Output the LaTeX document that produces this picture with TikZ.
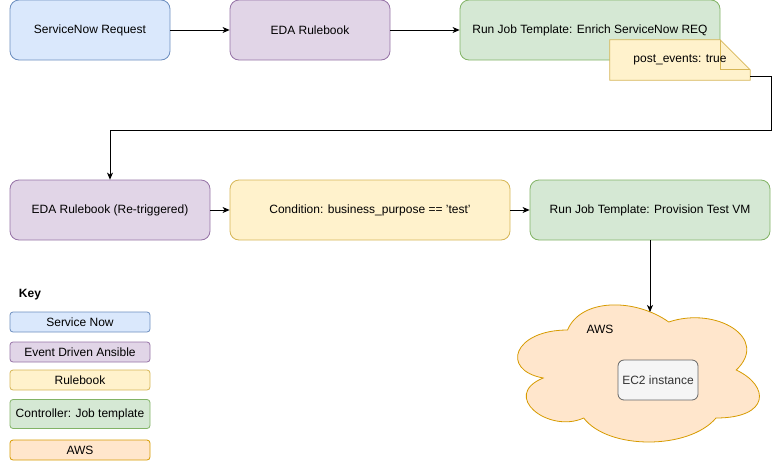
\documentclass[tikz,border=0pt]{standalone}
\usepackage{fontspec}
\setmainfont{Liberation Sans}
\usepackage{tikz}
\usetikzlibrary{arrows.meta}

\definecolor{snowfill}{HTML}{DAE8FC}
\definecolor{snowline}{HTML}{6C8EBF}
\definecolor{edafill}{HTML}{E1D5E7}
\definecolor{edaline}{HTML}{9673A6}
\definecolor{rulefill}{HTML}{FFF2CC}
\definecolor{ruleline}{HTML}{D6B656}
\definecolor{jobfill}{HTML}{D5E8D4}
\definecolor{jobline}{HTML}{82B366}
\definecolor{awsfill}{HTML}{FFE6CC}
\definecolor{awsline}{HTML}{D79B00}
\definecolor{ecfill}{HTML}{F5F5F5}
\definecolor{ecline}{HTML}{666666}
\definecolor{ectext}{HTML}{333333}

\begin{document}
\begin{tikzpicture}[x=1pt,y=-1pt,font=\fontsize{12}{14}\selectfont]
            \tikzstyle{box}=[draw,line width=0.8pt,rounded corners=9pt,inner sep=0pt,minimum height=60pt]
            \tikzstyle{keybox}=[draw,line width=0.8pt,rounded corners=3pt,inner sep=0pt,minimum width=140pt,minimum height=20pt]
            \tikzstyle{link}=[line width=0.8pt,-{Stealth[length=7pt,width=6pt,inset=2pt]}]
            \useasboundingbox (0,0) rectangle (779,461);
            % top row
            \node[box,fill=snowfill,draw=snowline,minimum width=160pt] (svcreq) at (90,30) {ServiceNow Request};
            \node[box,fill=edafill,draw=edaline,minimum width=160pt] (edarule) at (310,30) {EDA Rulebook};
            \node[box,fill=jobfill,draw=jobline,minimum width=260pt] (enrich) at (590,30) {Run Job Template: Enrich ServiceNow REQ};
            % note with folded corner
            \node[minimum width=140pt,minimum height=40pt,inner sep=0pt] (note) at (680,60) {};
            \draw[line width=0.8pt,draw=ruleline,fill=rulefill] (note.north west) -- ([xshift=-30pt]note.north east)
                -- ([yshift=-30pt]note.north east) -- (note.south east) -- (note.south west) -- cycle;
            \draw[line width=0.8pt,draw=ruleline] ([xshift=-30pt]note.north east) |- ([yshift=-30pt]note.north east);
            \node at (note) {post\_events: true};
            % second row
            \node[box,fill=edafill,draw=edaline,minimum width=200pt] (retrig) at (110,210) {EDA Rulebook (Re-triggered)};
            \node[box,fill=rulefill,draw=ruleline,minimum width=280pt] (cond) at (370,210) {Condition: business\_purpose == 'test'};
            \node[box,fill=jobfill,draw=jobline,minimum width=240pt] (provision) at (650,210) {Run Job Template: Provision Test VM};
            % cloud
            \begin{scope}[shift={(500,290)},x=270pt,y=-160pt]
                \draw[line width=0.8pt,draw=awsline,fill=awsfill] (0.25,0.25) .. controls (0.05,0.25) and (0,0.5) .. (0.16,0.55)
                    .. controls (0,0.66) and (0.18,0.9) .. (0.31,0.8) .. controls (0.4,1) and (0.7,1) .. (0.8,0.8)
                    .. controls (1,0.8) and (1,0.6) .. (0.875,0.5) .. controls (1,0.3) and (0.8,0.1) .. (0.625,0.2)
                    .. controls (0.5,0.05) and (0.3,0.05) .. (0.25,0.25) -- cycle;
            \end{scope}
            \coordinate (cloudtop) at (650,312);
            \node (awslabel) at (600,329) {AWS};
            \node[draw=ecline,fill=ecfill,text=ectext,line width=0.8pt,rounded corners=6pt,minimum width=80pt,minimum height=40pt,inner sep=0pt] (ec2) at (658,380) {EC2 instance};
            % key
            \node[font=\fontsize{12}{14}\selectfont\bfseries] (key) at (30,295) {Key};
            \node[keybox,fill=snowfill,draw=snowline] (keysnow) at (80,322) {Service Now};
            \node[keybox,fill=edafill,draw=edaline] (keyeda) at (80,352) {Event Driven Ansible};
            \node[keybox,fill=rulefill,draw=ruleline] (keyrule) at (80,380) {Rulebook};
            \node[keybox,fill=jobfill,draw=jobline,minimum height=29pt] (keyjob) at (80,414) {Controller: Job template};
            \node[keybox,fill=awsfill,draw=awsline] (keyaws) at (80,450) {AWS};
            % connectors
            \draw[link] (svcreq) -- (edarule);
            \draw[link] (edarule) -- (enrich);
            \coordinate (loop) at (771,130);
            \draw[link] ([yshift=4pt]note.south east) -| (loop) -| (retrig.north);
            \draw[link] (retrig) -- (cond);
            \draw[link] (cond) -- (provision);
            \draw[link] (provision.south) -- (cloudtop);
        \end{tikzpicture}
\end{document}
